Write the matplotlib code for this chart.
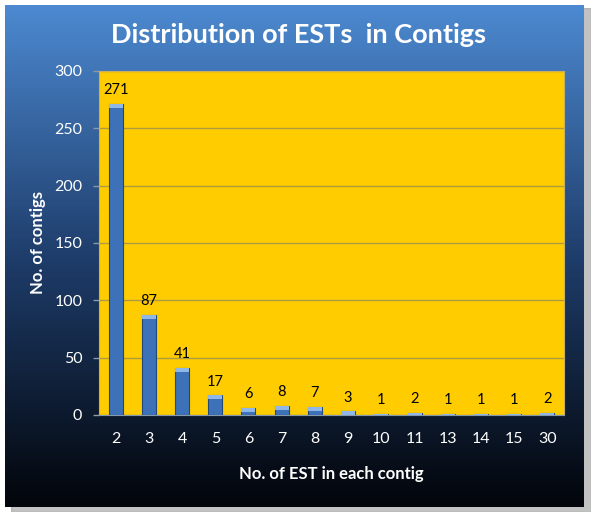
import numpy as np
import matplotlib.pyplot as plt
from matplotlib.patches import Rectangle

plt.rcParams['font.family'] = ['Lato', 'DejaVu Sans']

categories = ['2', '3', '4', '5', '6', '7', '8', '9', '10', '11', '13', '14', '15', '30']
counts = [271, 87, 41, 17, 6, 8, 7, 3, 1, 2, 1, 1, 1, 2]

fig = plt.figure(figsize=(6, 5.18), dpi=100)
fig.patch.set_facecolor('white')

# shadow + gradient card behind the chart
shadow = fig.add_axes([0.018, 0.012, 0.967, 0.972])
shadow.set_axis_off()
shadow.add_patch(Rectangle((0, 0), 1, 1, transform=shadow.transAxes, color='#9a9a9a', alpha=0.6))

bg = fig.add_axes([0.008, 0.022, 0.965, 0.968])
bg.set_axis_off()
grad = np.linspace(0, 1, 256)
top = np.array([0.30, 0.54, 0.82])
mid = np.array([0.12, 0.24, 0.42])
bot = np.array([0.01, 0.02, 0.04])
rows = []
for g in grad:
    if g < 0.5:
        c = top + (mid - top) * (g / 0.5)
    else:
        c = mid + (bot - mid) * ((g - 0.5) / 0.5)
    rows.append(c)
img = np.array(rows).reshape(256, 1, 3)
bg.imshow(img, aspect='auto', extent=[0, 1, 0, 1], origin='upper')
bg.set_xlim(0, 1)
bg.set_ylim(0, 1)

ax = fig.add_axes([0.165, 0.199, 0.775, 0.664])
ax.set_facecolor('#FFCC00')
x = np.arange(len(categories))
ax.bar(x, counts, width=0.42, color='#3D72B8', edgecolor='#22497a', linewidth=0.8, zorder=3)
# lighter caps on bar tops
for xi, v in zip(x, counts):
    h = min(v, 3.5)
    ax.bar(xi, h, bottom=v - h, width=0.42, color='#8FB8E8', linewidth=0, zorder=4)

for xi, v in zip(x, counts):
    ax.text(xi, v + 6, str(v), ha='center', va='bottom', fontsize=10.5, color='black', zorder=5)

ax.set_ylim(0, 300)
ax.set_xlim(-0.5, len(categories) - 0.5)
ax.set_yticks(range(0, 301, 50))
ax.set_xticks(x)
ax.set_xticklabels(categories)
ax.grid(axis='y', color='#b09a40', linewidth=1, zorder=1)
ax.tick_params(colors='white', labelsize=11.5, length=4, width=1)
ax.tick_params(axis='x', length=0, pad=12)
ax.tick_params(axis='y', color='#8899aa', pad=8)
for s in ax.spines.values():
    s.set_color('#c8b060')
ax.spines['bottom'].set_color('#8899aa')

ax.set_xlabel('No. of EST in each contig', color='white', fontsize=12, fontweight='bold', labelpad=15)
ax.set_ylabel('No. of contigs', color='white', fontsize=12, fontweight='bold', labelpad=6)

fig.text(0.497, 0.932, 'Distribution of ESTs  in Contigs', ha='center', va='center',
         color='white', fontsize=19.5, fontweight='bold')

plt.savefig('out.png', dpi=100)
